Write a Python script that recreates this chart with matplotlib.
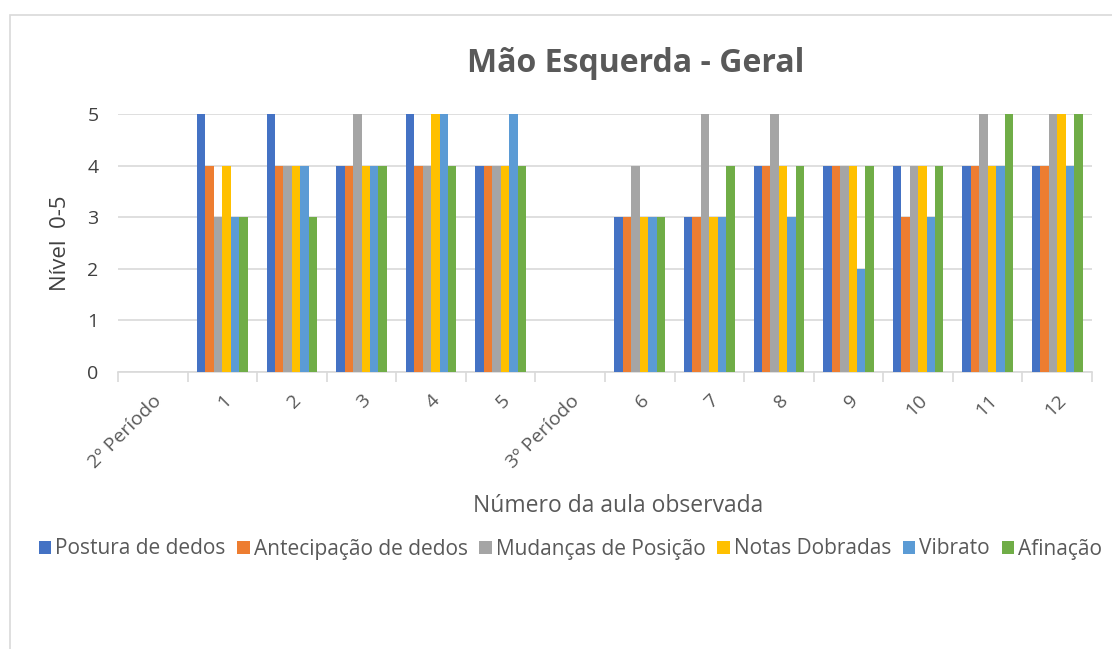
import numpy as np
import matplotlib
matplotlib.use("Agg")
import matplotlib.pyplot as plt
from matplotlib.patches import Rectangle

plt.rcParams["font.family"] = ["Open Sans", "DejaVu Sans"]

# ── Data ─────────────────────────────────────────────────────────────────────
categories = ["2º Período", "1", "2", "3", "4", "5", "3º Período",
              "6", "7", "8", "9", "10", "11", "12"]
postura     = [0, 5, 5, 4, 5, 4, 0, 3, 3, 4, 4, 4, 4, 4]
antecipacao = [0, 4, 4, 4, 4, 4, 0, 3, 3, 4, 4, 3, 4, 4]
mudancas    = [0, 3, 4, 5, 4, 4, 0, 4, 5, 5, 4, 4, 5, 5]
dobradas    = [0, 4, 4, 4, 5, 4, 0, 3, 3, 4, 4, 4, 4, 5]
vibrato     = [0, 3, 4, 4, 5, 5, 0, 3, 3, 3, 2, 3, 4, 4]
afinacao    = [0, 3, 3, 4, 4, 4, 0, 3, 4, 4, 4, 4, 5, 5]

series = [
    ("Postura de dedos", postura, "#4472C4"),
    ("Antecipação de dedos", antecipacao, "#ED7D31"),
    ("Mudanças de Posição", mudancas, "#A5A5A5"),
    ("Notas Dobradas", dobradas, "#FFC000"),
    ("Vibrato", vibrato, "#5B9BD5"),
    ("Afinação", afinacao, "#70AD47"),
]

# ── Plot ─────────────────────────────────────────────────────────────────────
fig = plt.figure(figsize=(11.12, 6.49), dpi=100)
fig.patches.append(Rectangle((10 / 1112, -0.1), 1.2, 1 - 15 / 649 + 0.1,
                             transform=fig.transFigure, fill=False,
                             edgecolor="#d9d9d9", lw=1.2, zorder=0))
ax = fig.add_axes([118 / 1112, 1 - 372 / 649, (1092 - 118) / 1112, (372 - 114) / 649])

x = np.arange(len(categories))
n = len(series)
bw = 0.73 / n
for i, (name, vals, col) in enumerate(series):
    ax.bar(x + (i - (n - 1) / 2) * bw, vals, width=bw, color=col,
           label=name, zorder=3, linewidth=0)

ax.set_xlim(-0.5, len(categories) - 0.5)
ax.set_ylim(0, 5)
ax.set_yticks(range(6))
ax.yaxis.grid(True, color="#d9d9d9", lw=1.2, zorder=0)
for s in ["top", "right", "left"]:
    ax.spines[s].set_visible(False)
ax.spines["bottom"].set_color("#d9d9d9")
ax.spines["bottom"].set_linewidth(1.2)
ax.tick_params(axis="y", length=0, labelsize=14, colors="#404040", pad=14)
ax.set_xticks(x)
ax.set_xticklabels(categories, rotation=45, ha="right", rotation_mode="anchor",
                   fontsize=14, color="#595959")
ax.tick_params(axis="x", which="major", length=0, pad=14)
ax.set_xticks(np.arange(len(categories) + 1) - 0.5, minor=True)
ax.tick_params(axis="x", which="minor", length=7, color="#d9d9d9", width=1.2)

fig.text(60 / 1112, 1 - 243 / 649, "Nível  0-5", rotation=90,
         fontsize=16, color="#404040", ha="center", va="center")
fig.text(618 / 1112, 1 - 506 / 649, "Número da aula observada",
         fontsize=16.5, color="#595959", ha="center", va="center")
fig.text(636 / 1112, 1 - 64 / 649, "Mão Esquerda - Geral",
         fontsize=23, fontweight="bold", color="#595959", ha="center", va="center")

fig.legend(loc="center left", bbox_to_anchor=(20 / 1112, 1 - 549 / 649), ncol=6,
           frameon=False, fontsize=15, handlelength=0.6, handleheight=0.6,
           handletextpad=0.2, columnspacing=0.55, labelcolor="#595959")

plt.savefig("out.png", dpi=100)
plt.close()
